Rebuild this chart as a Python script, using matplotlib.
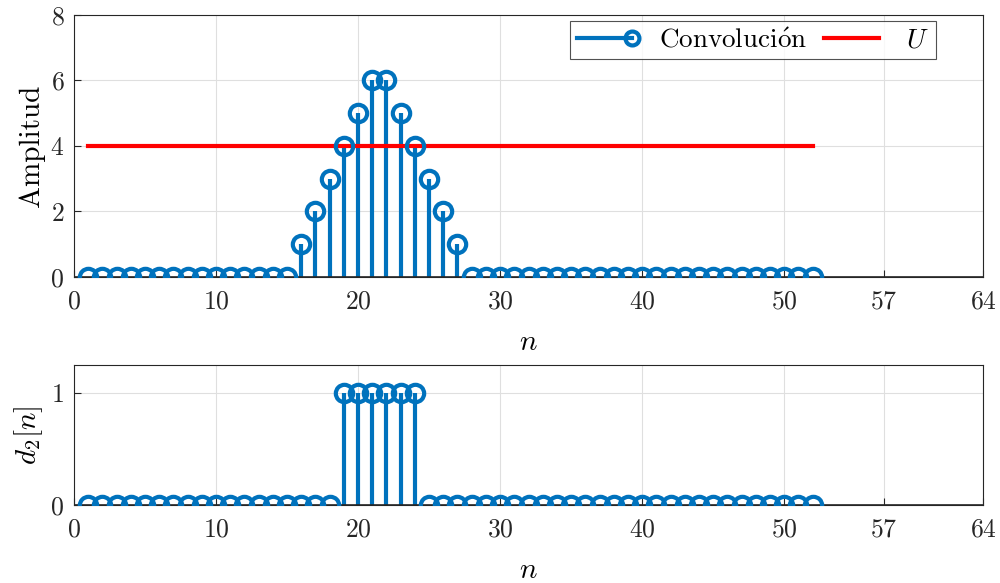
import numpy as np
import matplotlib
matplotlib.use("Agg")
from matplotlib import pyplot as plt
from matplotlib.lines import Line2D
from matplotlib.legend_handler import HandlerBase

plt.rcParams['font.family'] = ['cmr10', 'DejaVu Serif']
plt.rcParams['mathtext.fontset'] = 'cm'
plt.rcParams['axes.formatter.use_mathtext'] = True

# datos
n = np.arange(1, 53)
conv = [0]*15 + [1, 2, 3, 4, 5, 6, 6, 5, 4, 3, 2, 1] + [0]*25
d2 = [0]*18 + [1, 1, 1, 1, 1, 1] + [0]*28
U = 4
xticks = [0, 10, 20, 30, 40, 50, 57, 64]

azul = '#0072BD'
fs = 18.5


class HandlerStem(HandlerBase):
    # linea con el circulo al final, como en la leyenda de stem
    def create_artists(self, legend, orig, xd, yd, w, h, fontsize, trans):
        y = h / 2 - yd
        linea = Line2D([-xd, -xd + w], [y, y], color=azul, linewidth=3)
        marca = Line2D([-xd + w], [y], marker='o', color=azul,
                       markerfacecolor='none', markersize=10, markeredgewidth=3)
        linea.set_transform(trans)
        marca.set_transform(trans)
        return [linea, marca]


fig = plt.figure(figsize=(10, 5.83), dpi=100)
ax1 = fig.add_axes([0.074, 0.525, 0.909, 0.4494])
ax2 = fig.add_axes([0.074, 0.1338, 0.909, 0.2401])


def dibuja_stem(ax, x, y):
    ml, sl, bl = ax.stem(x, y, basefmt='k-')
    plt.setp(sl, color=azul, linewidth=3)
    plt.setp(ml, color=azul, markerfacecolor='none', markersize=12.5,
             markeredgewidth=3, zorder=4)
    plt.setp(bl, color='#262626', linewidth=1.2, xdata=[0, 64])
    return ml


h1 = dibuja_stem(ax1, n, conv)
h2, = ax1.plot([n[0], n[-1]], [U, U], color='#FF0000', linewidth=3, zorder=3)
ax1.set_ylim(0, 8)
ax1.set_yticks([0, 2, 4, 6, 8])
ax1.set_ylabel('Amplitud', fontsize=21)
leg = ax1.legend([h1, h2], [r'$\mathrm{Convoluci\acute{o}n}$', '$U$'],
                 handler_map={h1: HandlerStem()},
                 loc='upper right', bbox_to_anchor=(0.948, 0.975), ncol=2,
                 fontsize=19.5, frameon=True, fancybox=False,
                 edgecolor='#262626', handlelength=2.05, borderaxespad=0,
                 columnspacing=0.6, handletextpad=1.0, borderpad=0.25)
leg.get_frame().set_linewidth(0.8)

dibuja_stem(ax2, n, d2)
ax2.set_ylim(0, 1.25)
ax2.set_yticks([0, 1])
ax2.set_ylabel('$d_2[n]$', fontsize=21)

for ax in (ax1, ax2):
    ax.set_xlim(0, 64)
    ax.set_xticks(xticks)
    ax.set_xlabel('$n$', fontsize=21, labelpad=12)
    ax.grid(True, color='#dfdfdf', linewidth=0.8)
    ax.set_axisbelow(True)
    ax.tick_params(direction='in', labelsize=fs, length=5, width=0.8,
                   colors='#262626', top=False, right=False)
    ax.tick_params(axis='x', pad=9)
    ax.tick_params(axis='y', pad=7)
    for s in ax.spines.values():
        s.set_color('#262626')
        s.set_linewidth(0.8)

fig.savefig('out.png', dpi=100)
